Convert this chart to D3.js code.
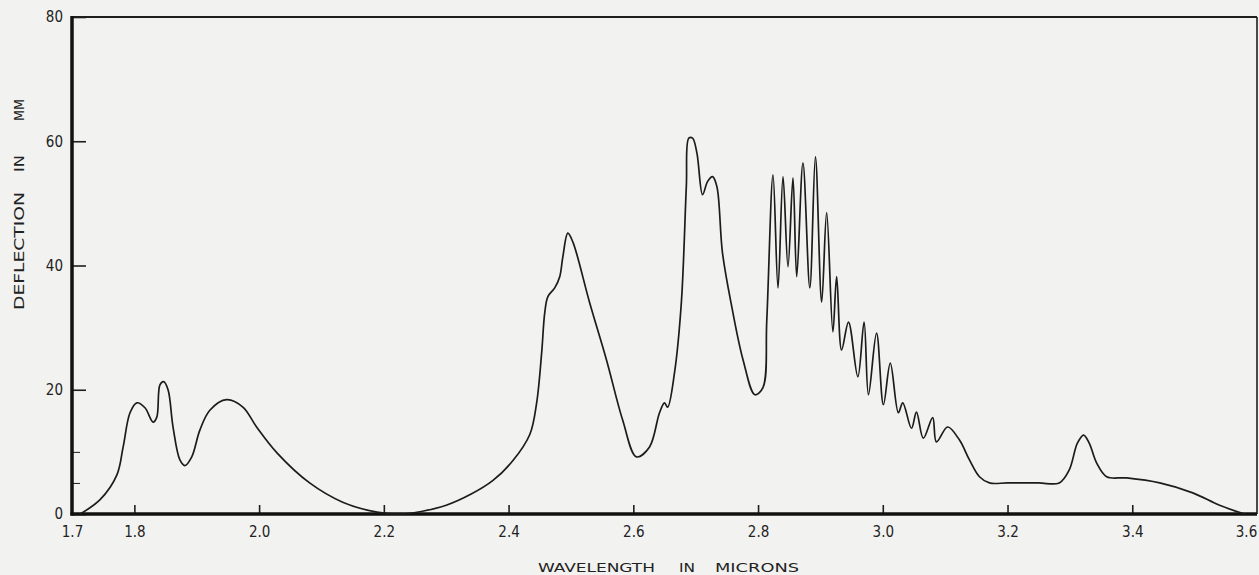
<!DOCTYPE html>
<meta charset="utf-8">
<script src="https://d3js.org/d3.v7.min.js"></script>
<style type="text/css">
body {
  margin: 0;
  background: #f2f2f0;
}
text {
  font-family: "DejaVu Sans Condensed", "Liberation Sans Narrow", "DejaVu Sans", sans-serif;
  fill: #222;
}
.axis path {
  display: none;
}
.axis line {
  stroke: #1e1e1e;
  stroke-width: 1.6;
}
</style>
<body>
<script>

// wavelength (microns) and galvanometer deflection (mm)
var wavelength = [1.713, 1.745, 1.772, 1.782, 1.793, 1.804, 1.817, 1.830, 1.836, 1.841,
  1.847, 1.854, 1.862, 1.873, 1.881, 1.892, 1.905, 1.921, 1.948, 1.974,
  1.996, 2.029, 2.081, 2.134, 2.189, 2.228, 2.26, 2.30, 2.34, 2.375,
  2.407, 2.434, 2.445, 2.453, 2.458, 2.463, 2.474, 2.482, 2.487, 2.495,
  2.503, 2.530, 2.557, 2.583, 2.605, 2.626, 2.642, 2.650, 2.655, 2.666,
  2.677, 2.685, 2.689, 2.695, 2.702, 2.711, 2.719, 2.727, 2.734, 2.743,
  2.758, 2.776, 2.795, 2.808, 2.814, 2.824, 2.832, 2.840, 2.848, 2.856,
  2.862, 2.872, 2.883, 2.892, 2.902, 2.910, 2.920, 2.926, 2.934, 2.945,
  2.960, 2.970, 2.977, 2.990, 3.001, 3.012, 3.025, 3.032, 3.046, 3.054,
  3.065, 3.080, 3.086, 3.104, 3.123, 3.139, 3.155, 3.171, 3.20, 3.25, 3.283, 3.299,
  3.312, 3.322, 3.331, 3.343, 3.359, 3.391, 3.444, 3.497, 3.540, 3.580];
var deflection = [0, 2.3, 6.3, 10.8, 16.3, 17.9, 17.1, 14.8, 15.6, 20.8,
  21.3, 20, 14, 8.7, 7.8, 9.2, 13.5, 16.7, 18.4, 17.2,
  14, 9.8, 5, 1.9, 0.3, 0, 0.4, 1.4, 3.2, 5.4,
  8.6, 12.8, 17.9, 25.9, 32.4, 35, 36.4, 38.2, 41.4, 45.2,
  43.8, 34, 24.8, 15.1, 9.2, 10.8, 16.3, 17.9, 17.2, 22.7,
  34, 52.7, 60.5, 60.5, 58.1, 51.4, 53.5, 54.3, 52.7, 42,
  33.3, 24.8, 19.2, 20.4, 31.2, 54.6, 36.4, 54.3, 39.8, 54.1,
  38.2, 56.5, 36.4, 57.5, 34.1, 48.5, 29.3, 38.2, 26.4, 30.9,
  22.1, 30.9, 19.2, 29.1, 17.6, 24.3, 16.3, 17.9, 13.8, 16.4,
  12.2, 15.5, 11.6, 14, 11.9, 8.7, 6, 5, 5, 5, 5, 7.1,
  11.4, 12.7, 11.4, 8.2, 6, 5.8, 5, 3.4, 1.4, 0];

var xTicks = [1.8, 2.0, 2.2, 2.4, 2.6, 2.8, 3.0, 3.2, 3.4];
var xLabels = [1.7, 1.8, 2.0, 2.2, 2.4, 2.6, 2.8, 3.0, 3.2, 3.4, 3.6];
var yTicks = [0, 20, 40, 60, 80];
var yMinor = [5, 10];
var xTitle = ["WAVELENGTH", "IN", "MICRONS"];
var yTitle = ["DEFLECTION", "IN", "MM"];

var width = 1259, height = 575;
var plotLeft = 72, plotRight = 1257, plotTop = 17, plotBottom = 514;

var svg = d3.select("body").append("svg")
    .attr("width", width)
    .attr("height", height);

var x = d3.scaleLinear().domain([1.7, 3.6]).range([plotLeft, plotRight]);
var y = d3.scaleLinear().domain([0, 80]).range([plotBottom, plotTop]);

// x ticks point up into the plot, labels below
svg.append("g").attr("class", "axis")
    .attr("transform", "translate(0," + plotBottom + ")")
    .call(d3.axisBottom(x).tickValues(xTicks).tickSize(-9).tickFormat(""));
svg.append("g").attr("class", "axis")
    .attr("transform", "translate(0," + plotBottom + ")")
    .call(d3.axisBottom(x).tickValues(xLabels).tickSize(0).tickPadding(12).tickFormat(d3.format(".1f")))
    .selectAll("text")
    .style("font-size", "15px")
    .attr("fill", "#222")
    .attr("dx", function(d) { return d === 3.6 ? -11 : 0; });

// y ticks point right into the plot
svg.append("g").attr("class", "axis")
    .attr("transform", "translate(" + plotLeft + ",0)")
    .call(d3.axisLeft(y).tickValues(yTicks).tickSize(-14).tickPadding(9).tickFormat(d3.format("d")))
    .selectAll("text")
    .style("font-size", "15px")
    .attr("fill", "#222");
svg.append("g").attr("class", "axis")
    .attr("transform", "translate(" + plotLeft + ",0)")
    .call(d3.axisLeft(y).tickValues(yMinor).tickSize(-8).tickFormat(""))
    .selectAll("line").style("stroke-width", 1);

// frame
svg.append("line").attr("x1", plotLeft).attr("x2", plotRight).attr("y1", plotTop).attr("y2", plotTop)
    .style("stroke", "#1e1e1e").style("stroke-width", 2.2);
svg.append("line").attr("x1", plotRight).attr("x2", plotRight).attr("y1", plotTop).attr("y2", plotBottom)
    .style("stroke", "#1e1e1e").style("stroke-width", 1.6);
svg.append("line").attr("x1", plotLeft).attr("x2", plotLeft).attr("y1", plotTop - 1).attr("y2", plotBottom + 1.5)
    .style("stroke", "#111").style("stroke-width", 3.5);
svg.append("line").attr("x1", plotLeft - 1.5).attr("x2", plotRight).attr("y1", plotBottom).attr("y2", plotBottom)
    .style("stroke", "#111").style("stroke-width", 3.5);

// spectrum trace
var line = d3.line()
    .x(function(d, i) { return x(wavelength[i]); })
    .y(function(d, i) { return y(deflection[i]); })
    .curve(d3.curveCatmullRom.alpha(0.5));

svg.append("path")
    .datum(deflection)
    .attr("d", line)
    .style("fill", "none")
    .style("stroke", "#1c1c1c")
    .style("stroke-width", 1.7)
    .style("stroke-linejoin", "round");

// axis titles, words spaced apart like the hand lettering
var xWordStart = [538, 679, 715];
var xWordLen = [117, 16, 84];
svg.selectAll(".xtitle").data(xTitle).enter().append("text")
    .attr("class", "xtitle")
    .attr("x", function(d, i) { return xWordStart[i]; })
    .attr("y", 572)
    .attr("textLength", function(d, i) { return xWordLen[i]; })
    .attr("lengthAdjust", "spacingAndGlyphs")
    .style("font-size", "13px")
    .text(function(d) { return d; });

var yWordStart = [310, 172, 121];
var yWordLen = [118, 17, 22];
svg.selectAll(".ytitle").data(yTitle).enter().append("text")
    .attr("class", "ytitle")
    .attr("transform", function(d, i) { return "translate(24," + yWordStart[i] + ") rotate(-90)"; })
    .attr("textLength", function(d, i) { return yWordLen[i]; })
    .attr("lengthAdjust", "spacingAndGlyphs")
    .style("font-size", "14px")
    .text(function(d) { return d; });

</script>
</body>
</html>
